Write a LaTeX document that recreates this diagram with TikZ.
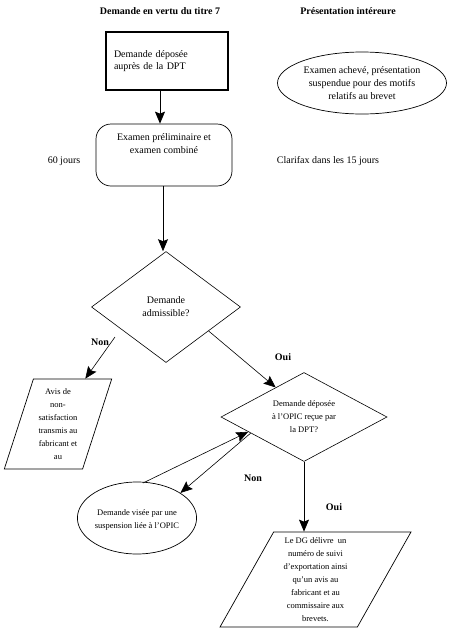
\documentclass[tikz,border=0pt]{standalone}
\usepackage{fontspec}
\setmainfont{Liberation Serif}
\usetikzlibrary{shapes.geometric,arrows.meta,calc}

\begin{document}
\begin{tikzpicture}[x=1pt,y=-1pt,
    flow/.style={-{Stealth[length=12pt,width=10pt,inset=2pt]},line width=0.8pt},
    thin flow/.style={-{Stealth[length=12pt,width=10pt,inset=2pt]},line width=0.6pt},
    answer/.style={font=\fontsize{10}{12}\selectfont\bfseries},
    plain text/.style={font=\fontsize{10}{13}\selectfont,align=center},
    small text/.style={font=\fontsize{8.5}{13}\selectfont,align=center},
    decision/.style={draw,diamond,inner sep=0pt,line width=0.6pt},
    slanted/.style={draw,trapezium,trapezium stretches=true,inner sep=0pt,line width=0.7pt}
  ]

  \useasboundingbox (0,0) rectangle (450,630);

  \node[answer] (titleLeft) at (160,11) {Demande en vertu du titre 7};
  \node[answer] (titleRight) at (348,11) {Présentation intéreure};

  \node[
    draw,
    line width=2pt,
    minimum width=122pt,
    minimum height=58pt,
    text width=106pt,
    align=left,
    font=\fontsize{10}{12}\selectfont
  ] (deposit) at (167,61)
    {Demande déposée\\auprès de la DPT};

  \node[
    draw,
    ellipse,
    line width=0.7pt,
    minimum width=169pt,
    minimum height=62pt,
    inner sep=0pt,
    plain text
  ] (doneExam) at (362,83)
    {Examen achevé, présentation\\suspendue pour des motifs\\relatifs au brevet};

  \node[
    draw,
    rounded corners=15pt,
    line width=0.7pt,
    minimum width=136pt,
    minimum height=62pt,
    plain text
  ] (prelim) at (164,155)
    {Examen préliminaire et\\examen combiné\\[9pt]};

  \node[plain text] (sixty) at (64,161) {60 jours};
  \node[plain text] (clarifax) at (328,161) {Clarifax dans les 15 jours};

  \node[
    decision,
    aspect=1,
    minimum width=149pt,
    minimum height=111pt,
    plain text
  ] (admissible) at (166,307)
    {Demande\\admissible?};

  \node[
    slanted,
    trapezium left angle=72,
    trapezium right angle=108,
    minimum width=108pt,
    minimum height=90pt,
    small text
  ] (refusal) at (58,424)
    {Avis de\\non-\\satisfaction\\transmis au\\fabricant et\\au};

  \node[
    decision,
    aspect=1.87,
    minimum width=166pt,
    minimum height=89pt,
    small text
  ] (received) at (304,417)
    {Demande déposée\\à l’OPIC reçue par\\la DPT?};

  \node[
    draw,
    ellipse,
    line width=0.7pt,
    minimum width=108pt,
    minimum height=72pt,
    inner sep=0pt,
    small text
  ] (opicStay) at (137,518)
    {\\[-4pt]Demande visée par une\\suspension liée à l’OPIC};

  \node[
    slanted,
    trapezium left angle=64,
    trapezium right angle=116,
    minimum width=191pt,
    minimum height=95pt,
    small text
  ] (tracking) at (315.5,579.5)
    {Le DG délivre\ \ un\\numéro de suivi\\d’exportation ainsi\\qu’un avis au\\fabricant et au\\commissaire aux\\brevets.};

  \coordinate (nonStart) at (115,337);
  \coordinate (stayStart) at (143,483);

  \draw[flow] ([xshift=-7pt]deposit.south) -- ([xshift=-7pt]deposit.south |- prelim.north);
  \draw[flow] ([xshift=-1pt]prelim.south) -- ([xshift=-1pt]prelim.south |- admissible.north);
  \draw[thin flow] (nonStart) -- ($(refusal.top left corner)!0.66!(refusal.top right corner)$);
  \draw[thin flow] ($(admissible.east)!0.43!(admissible.south)$) -- ($(received.west)!0.66!(received.north)$);
  \draw[flow] (received.south) -- (received.south |- tracking.north);
  \draw[thin flow] (stayStart) -- ($(received.west)!0.33!(received.south)$);
  \draw[thin flow] ($(received.west)!0.36!(received.south)$) -- (opicStay.30);

  \node[answer] (nonOne) at (100,342) {Non};
  \node[answer] (ouiOne) at (283,357) {Oui};
  \node[answer] (nonTwo) at (253,478) {Non};
  \node[answer] (ouiTwo) at (334,507) {Oui};

\end{tikzpicture}
\end{document}
